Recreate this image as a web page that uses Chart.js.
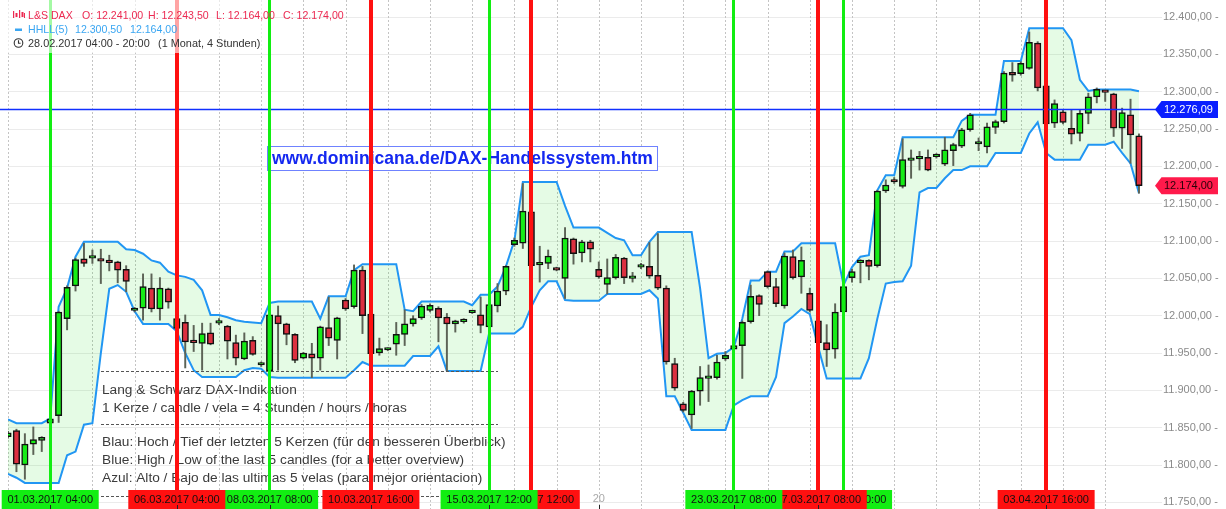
<!DOCTYPE html>
<html><head><meta charset="utf-8">
<script src="https://cdn.jsdelivr.net/npm/chart.js@4/dist/chart.umd.min.js"></script>
<style>html,body{margin:0;padding:0;background:#fff;overflow:hidden}#wrap{width:1226px;height:509px;position:relative}</style>
</head><body><div id="wrap"><canvas id="c" width="1226" height="509"></canvas></div>
<script>
// ---- data (4h candles, 28.02.2017 04:00 ... 05.04.2017) ----
const open = [11838,11846,11800,11828,11833,11856,11866,11996,12040,12076,
12077,12076,12073,12072,12062,12007,12010,12037,12009,12036,
11983,11991,11967,11963,11977,11990,11986,11964,11942,11967,
11934,11926,12000,11989,11975,11943,11949,11943,11984,11967,
12021,12012,12061,12002,11950,11954,11962,11975,11989,11997,
12007,12010,11998,11989,11992,12004,12001,11985,12013,12033,
12095,12097,12139,12068,12070,12064,12050,12103,12084,12099,
12062,12042,12051,12077,12050,12065,12066,12054,12037,11936,
11882,11867,11899,11916,11917,11942,11955,11960,11992,12027,
12059,12039,12013,12079,12052,12030,11993,11964,11955,12005,
12051,12071,12074,12067,12167,12182,12173,12208,12210,12212,
12213,12203,12221,12227,12249,12230,12226,12252,12260,12326,
12324,12331,12365,12308,12258,12273,12251,12244,12271,12293,
12301,12297,12251,12269,12241];
const high = [11845,11848,11842,11851,11838,11865,12006,12040,12077,12097,
12088,12089,12081,12073,12067,12011,12056,12056,12051,12037,
11998,12001,11987,11990,11990,11996,11987,11974,11977,11972,
11938,12003,12013,11990,11976,11951,11963,11986,12025,11998,
12023,12068,12066,12003,11970,11957,11991,12008,12000,12015,
12016,12012,12003,11994,11996,12007,12025,12016,12043,12067,
12104,12177,12141,12093,12088,12065,12118,12104,12101,12101,
12072,12076,12082,12078,12058,12070,12098,12110,12040,11943,
11884,11900,11932,11934,11947,11952,11962,11993,12041,12028,
12060,12050,12084,12088,12092,12037,11995,11988,12016,12040,
12062,12075,12075,12168,12182,12185,12237,12222,12220,12222,
12217,12239,12231,12251,12271,12238,12258,12262,12327,12339,
12340,12380,12367,12309,12289,12275,12275,12275,12298,12305,
12302,12298,12278,12290,12243.5];
const low = [11836,11791,11781,11814,11818,11855,11857,11981,12033,12066,
12070,12043,12060,12044,12032,12005,11994,12005,11994,12010,
11980,11930,11952,11927,11961,11988,11942,11934,11941,11947,
11932,11924,11927,11961,11937,11942,11917,11927,11960,11942,
12007,12010,11976,11947,11947,11953,11947,11960,11986,11995,
12005,11965,11926,11978,11990,12003,11977,11984,12005,12028,
12093,12090,12065,12045,12063,12060,12023,12069,12072,12072,
12050,12029,12049,12043,12045,12063,12050,12035,11935,11900,
11871,11849,11880,11885,11915,11940,11953,11916,11990,12000,
12037,12012,12010,12049,12030,12005,11962,11932,11943,12003,
12045,12044,12048,12065,12165,12177,12171,12184,12195,12194,
12211,12201,12201,12225,12247,12221,12218,12244,12258,12314,
12322,12330,12301,12255,12252,12257,12230,12234,12257,12285,
12287,12240,12224,12204,12164];
const close = [11843,11801,11828,11834,11837,11862,12005,12038,12075,12070,
12079,12073,12071,12061,12046,12010,12039,12009,12037,12018,
11996,11965,11964,11976,11962,11993,11966,11943,11966,11948,
11936,12001,11989,11975,11940,11950,11943,11985,11970,11997,
12009,12061,12000,11949,11956,11956,11975,11989,11996,12013,
12014,11997,11989,11993,11995,12006,11987,12015,12033,12066,
12101,12140,12067,12071,12080,12061,12104,12083,12099,12089,
12052,12051,12078,12051,12052,12068,12053,12037,11938,11903,
11873,11899,11917,11918,11938,11947,11960,11991,12026,12015,
12039,12016,12080,12051,12074,12007,11964,11954,12005,12039,
12059,12074,12066,12167,12175,12179,12209,12210,12213,12195,
12215,12222,12229,12249,12269,12232,12253,12260,12325,12322,
12338,12366,12305,12257,12284,12259,12243,12271,12293,12303,
12299,12251,12272,12242,12174];
// HHLL(5) bands
const hhUpper = [11861,11856,11856,11856,11856,11862,12012,12037,12079,12099,
12099,12099,12099,12099,12089,12088,12083,12074,12071,12059,
12054,12052,12048,12034,12001,12001,11998,11994,11992,11991,
11990,12017,12019,12019,12019,12019,12019,11996,12026,12026,
12026,12061,12069,12069,12069,12069,12069,12008,12006,12019,
12019,12019,12019,12019,12019,12014,12028,12028,12039,12066,
12101,12179,12179,12179,12179,12179,12147,12118,12118,12118,
12118,12111,12104,12101,12081,12081,12099,12112,12112,12112,
12112,12112,12037,11943,11949,11950,11958,11996,12047,12047,
12059,12059,12086,12086,12097,12097,12097,12097,12097,12041,
12065,12079,12081,12168,12188,12188,12239,12239,12239,12239,
12239,12239,12239,12261,12269,12269,12269,12269,12341,12341,
12341,12385,12385,12385,12385,12385,12369,12316,12301,12303,
12303,12303,12303,12303,12300.5];
const llLower = [11788,11783,11776,11776,11776,11776,11776,11813,11818,11854,
11856,11950,12036,12041,12032,12006,11989,11989,11989,11989,
11979,11950,11927,11918,11918,11918,11918,11918,11927,11930,
11929,11918,11917,11917,11917,11917,11917,11917,11917,11917,
11917,11927,11938,11933,11933,11933,11933,11933,11946,11946,
11946,11959,11926,11926,11926,11926,11926,11976,11976,11976,
11976,11985,12012,12034,12046,12046,12021,12020,12020,12020,
12020,12029,12029,12029,12029,12029,12034,12023,11892,11892,
11870,11847,11847,11847,11847,11847,11880,11887,11892,11892,
11892,11918,11990,11999,12009,12002,11958,11916,11916,11916,
11916,11916,11943,11996,12043,12045,12046,12067,12165,12171,
12171,12184,12195,12195,12200,12200,12200,12218,12218,12218,
12218,12244,12259,12218,12209,12209,12209,12209,12229,12229,
12229,12233,12218,12204,12164];
// signals
const signalIdx = [5,20,31,43,57,62,86,96,99,123];
const signalSide = ['buy','sell','buy','sell','buy','sell','buy','sell','buy','sell'];
const signalText = ['01.03.2017 04:00','06.03.2017 04:00','08.03.2017 08:00','10.03.2017 16:00','15.03.2017 12:00','16.03.2017 12:00','23.03.2017 08:00','27.03.2017 08:00','27.03.2017 20:00','03.04.2017 16:00'];
const dayStartIdx = [0,5,10,15,20,25,30,35,40,45,50,55,60,65,70,75,80,85,90,95,100,105,110,115,120,125,130];
const axisTickIdx = [5,20,31,43,57,70,86,96,123];
const axisDayLabels = [{i:70, t:'20'}];
const refLine = 12276.09;
const lastClose = 12174.00;
const legend1 = ['L&S DAX','O: 12.241,00','H: 12.243,50','L: 12.164,00','C: 12.174,00'];
const legend2 = ['HHLL(5)','12.300,50','12.164,00'];
const legend3 = ['28.02.2017 04:00 - 20:00','(1 Monat, 4 Stunden)'];
const noteLines = ['Lang & Schwarz DAX-Indikation','1 Kerze / candle / vela = 4 Stunden / hours / horas',
 'Blau: Hoch / Tief der letzten 5 Kerzen (für den besseren Überblick)','Blue: High / Low of the last 5 candles (for a better overview)',
 'Azul: Alto / Bajo de las ultimas 5 velas (para mejor orientacion)'];
const linkText = 'www.dominicana.de/DAX-Handelssystem.htm';

const FONT = '"Liberation Sans", Arial, sans-serif';
const fmt = v => { const s = v.toFixed(2).split('.'); return s[0].replace(/\B(?=(\d{3})+(?!\d))/g,'.') + ',' + s[1]; };
const GREEN = '#12ee12', RED = '#ff1010';

const overlay = {
  id:'overlay',
  beforeDatasetsDraw(chart){
    const ctx = chart.ctx, xs = chart.scales.x;
    ctx.save();
    ctx.strokeStyle = '#c4c4c4'; ctx.lineWidth = 1; ctx.setLineDash([2,2]);
    dayStartIdx.forEach(i => { const x = Math.round(xs.getPixelForValue(i)) + 0.5;
      ctx.beginPath(); ctx.moveTo(x, 0); ctx.lineTo(x, 509); ctx.stroke(); });
    ctx.restore();
  },
  afterDraw(chart){
    const ctx = chart.ctx, xs = chart.scales.x, ys = chart.scales.y;
    ctx.save();
    // note box
    ctx.strokeStyle = '#555'; ctx.lineWidth = 1; ctx.setLineDash([3,2]);
    [371.5, 424.5, 496.5].forEach(y => { ctx.beginPath(); ctx.moveTo(101, y); ctx.lineTo(498, y); ctx.stroke(); });
    ctx.setLineDash([]);
    ctx.fillStyle = '#3c3c3c'; ctx.font = '13.7px ' + FONT; ctx.textBaseline = 'alphabetic'; ctx.textAlign = 'left';
    [394, 411.5, 446, 464.3, 482.3].forEach((y, k) => ctx.fillText(noteLines[k], 102, y));
    // link box
    ctx.fillStyle = '#fff'; ctx.fillRect(267, 146, 390, 24);
    ctx.strokeStyle = '#6f82ff'; ctx.lineWidth = 1; ctx.strokeRect(267.5, 146.5, 390, 24);
    ctx.font = 'bold 16px ' + FONT;
    const w16 = ctx.measureText(linkText).width;
    const fs = 16 * 381 / w16;
    ctx.font = 'bold ' + fs.toFixed(2) + 'px ' + FONT;
    ctx.fillStyle = '#1428f0'; ctx.textBaseline = 'middle';
    ctx.fillText(linkText, 272, 159);
    // reference horizontal line
    const yr = ys.getPixelForValue(refLine);
    ctx.strokeStyle = '#1030ff'; ctx.lineWidth = 1.5;
    ctx.beginPath(); ctx.moveTo(0, yr); ctx.lineTo(1156, yr); ctx.stroke();
    // vertical signal lines
    signalIdx.forEach((i, k) => {
      const x = xs.getPixelForValue(i);
      ctx.fillStyle = signalSide[k] === 'buy' ? GREEN : RED;
      const w = signalSide[k] === 'buy' ? 3 : 4;
      ctx.fillRect(Math.round(x - w/2), 0, w, 492);
    });
    // legend
    ctx.fillStyle = 'rgba(255,255,255,0.62)'; ctx.fillRect(0, 0, 262, 53);
    ctx.textBaseline = 'alphabetic'; ctx.font = '10.6px ' + FONT;
    ctx.fillStyle = '#ec2a52';
    [[28,0],[82,1],[148,2],[216,3],[283,4]].forEach(p => ctx.fillText(legend1[p[1]], p[0], 18.8));
    // candle icon
    ctx.fillRect(13, 11, 1.2, 7); ctx.fillRect(15.5, 13, 2, 4); ctx.fillRect(19, 10, 1.2, 8); ctx.fillRect(21.5, 12, 2, 5); ctx.fillRect(24, 13, 1, 5);
    ctx.fillStyle = '#3aa6f2';
    [[28,0],[75,1],[130,2]].forEach(p => ctx.fillText(legend2[p[1]], p[0], 33));
    ctx.fillRect(15, 28.5, 7, 2.5);
    ctx.fillStyle = '#333';
    ctx.font = '10.9px ' + FONT;
    ctx.fillText(legend3[0], 28, 47); ctx.fillText(legend3[1], 158, 47);
    ctx.strokeStyle = '#333'; ctx.lineWidth = 1.1;
    ctx.beginPath(); ctx.arc(18.5, 43, 4.3, 0, Math.PI*2); ctx.stroke();
    ctx.beginPath(); ctx.moveTo(18.5, 40.3); ctx.lineTo(18.5, 43.2); ctx.lineTo(20.6, 43.2); ctx.stroke();
    // bottom labels (drawn latest-first so earlier ones sit on top)
    ctx.font = '11px ' + FONT; ctx.textAlign = 'center'; ctx.textBaseline = 'middle';
    for (let k = signalIdx.length - 1; k >= 0; k--) {
      const x = xs.getPixelForValue(signalIdx[k]);
      ctx.fillStyle = signalSide[k] === 'buy' ? GREEN : RED;
      ctx.fillRect(x - 48.5, 490, 97, 19);
      ctx.fillStyle = '#111';
      ctx.fillText(signalText[k], x, 500);
    }
    ctx.fillStyle = '#aaa';
    axisDayLabels.forEach(d => ctx.fillText(d.t, xs.getPixelForValue(d.i), 499));
    ctx.fillStyle = '#222';
    axisTickIdx.forEach(i => { const x = Math.round(xs.getPixelForValue(i)); ctx.fillRect(x, 505, 1, 4); });
    // price tags
    function tag(v, bg, fg){
      const y = ys.getPixelForValue(v);
      ctx.fillStyle = bg;
      ctx.beginPath(); ctx.moveTo(1155, y); ctx.lineTo(1161.5, y - 8.5); ctx.lineTo(1218, y - 8.5);
      ctx.lineTo(1218, y + 8.5); ctx.lineTo(1161.5, y + 8.5); ctx.closePath(); ctx.fill();
      ctx.fillStyle = fg; ctx.textAlign = 'left'; ctx.textBaseline = 'middle'; ctx.font = '11px ' + FONT;
      ctx.fillText(fmt(v), 1164, y + 0.5);
    }
    tag(refLine, '#0a1eff', '#ffffff');
    tag(lastClose, '#ff1a4b', '#2a0008');
    ctx.restore();
  }
};

const xy = (arr) => arr.map((v, i) => ({x: i, y: v}));
new Chart(document.getElementById('c'), {
  type: 'bar',
  data: {
    datasets: [
      { type:'line', label:'HHLL upper', data: xy(hhUpper), borderColor:'#2196f3', borderWidth:2, pointRadius:0, tension:0,
        fill:'+1', backgroundColor:'rgba(0,215,0,0.10)', order:5 },
      { type:'line', label:'HHLL lower', data: xy(llLower), borderColor:'#2196f3', borderWidth:2, pointRadius:0, tension:0,
        fill:false, order:4 },
      { type:'bar', label:'wick', data: low.map((l, i) => ({x:i, y:[l, high[i]]})), backgroundColor:'#5c6356',
        barThickness:1.3, grouped:false, order:2 },
      { type:'bar', label:'body', data: open.map((o, i) => ({x:i, y:[o, close[i]]})),
        backgroundColor: open.map((o, i) => close[i] >= o ? '#16ec16' : '#dc3040'),
        borderColor:'#111', borderWidth:1.5, borderSkipped:false, barThickness:6.5, minBarLength:2.5, grouped:false, order:1 }
    ]
  },
  options: {
    responsive:false, animation:false, devicePixelRatio:1,
    layout:{ padding:{ left:8, top:0, right:0, bottom:0 } },
    plugins:{ legend:{display:false}, tooltip:{enabled:false} },
    scales:{
      x:{ type:'linear', display:false, offset:false, min:0, max:135.07, grid:{offset:false} },
      y:{ position:'right', min:11741.1, max:12422.8,
        border:{display:false},
        grid:{ color:'#ebebeb', tickLength:14, tickColor:'#ebebeb' },
        ticks:{ stepSize:50, includeBounds:false, color:'#8a8a8a', padding:1, font:{ size:11, family:FONT },
          callback: v => fmt(v) + ' -' },
        afterFit: s => { s.width = 78; s.paddingTop = 0; s.paddingBottom = 0; }
      }
    }
  },
  plugins:[overlay]
});
</script></body></html>
